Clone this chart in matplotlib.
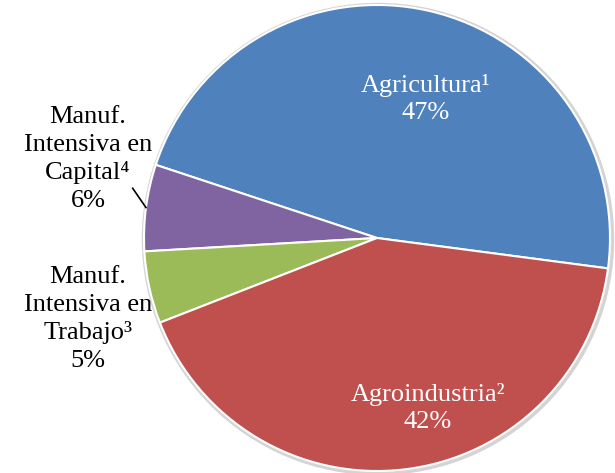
import numpy as np
import matplotlib.pyplot as plt
from matplotlib.patches import Circle

# datos
sectores = ['Agricultura¹', 'Manuf.\nIntensiva en\nCapital⁴', 'Manuf.\nIntensiva en\nTrabajo³', 'Agroindustria²']
valores = [47, 6, 5, 42]
colores = ['#4F81BD', '#8064A2', '#9BBB59', '#C0504D']

plt.rcParams['font.family'] = ['Liberation Serif', 'DejaVu Serif']

fig = plt.figure(figsize=(6.15, 4.73), dpi=100)
ax = fig.add_axes([0, 0, 1, 1])

cx, cy, r = 377, 235, 233
start = -7.5

# sombra clara alrededor
ax.add_patch(Circle((cx + 1, cy - 1), r + 2.5, color='#d4d4d4', zorder=0))

wedges, _ = ax.pie(valores, colors=colores, startangle=start, counterclock=True,
                   center=(cx, cy), radius=r, frame=True,
                   wedgeprops=dict(edgecolor='white', linewidth=1.5))
ax.set_xlim(0, 615)
ax.set_ylim(0, 473)
ax.axis('off')

fs = 19
ls = 1.32
pct = ['%d%%' % v for v in valores]

# etiquetas internas
ax.text(426, 473 - 99, sectores[0] + '\n' + pct[0], color='white', fontsize=fs,
        ha='center', va='center', linespacing=ls)
ax.text(428, 473 - 408, sectores[3] + '\n' + pct[3], color='white', fontsize=fs,
        ha='center', va='center', linespacing=ls)

# etiquetas externas
ax.text(88, 473 - 159, sectores[1] + '\n' + pct[1], color='black', fontsize=fs,
        ha='center', va='center', linespacing=ls)
ax.text(88, 473 - 319, sectores[2] + '\n' + pct[2], color='black', fontsize=fs,
        ha='center', va='center', linespacing=ls)

# linea guia para Capital
w = wedges[1]
mid = np.deg2rad((w.theta1 + w.theta2) / 2)
p0 = (cx + r * np.cos(mid), cy + r * np.sin(mid))
mid2 = mid - np.deg2rad(4)
p1 = (cx + 1.07 * r * np.cos(mid2), cy + 1.07 * r * np.sin(mid2))
ax.plot([p0[0], p1[0]], [p0[1], p1[1]], color='black', linewidth=1.2)

plt.savefig('out.png', dpi=100)
